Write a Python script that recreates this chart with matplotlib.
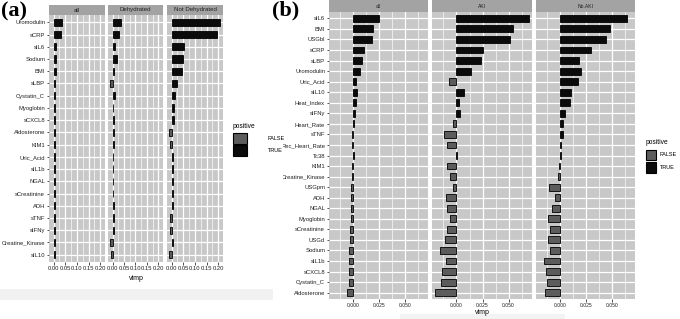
import matplotlib
matplotlib.use('Agg')
import matplotlib.pyplot as plt
from matplotlib.patches import Rectangle
from matplotlib.transforms import Bbox, TransformedBbox
import numpy as np

plt.rcParams['font.family'] = ['Liberation Sans', 'DejaVu Sans']

W, H = 680, 319

# ---------------- data : panel (a) ----------------
cats_a = ['Uromodulin', 'sCRP', 'sIL6', 'Sodium', 'BMI', 'sLBP', 'Cystatin_C',
          'Myoglobin', 'sCXCL8', 'Aldosterone', 'KIM1', 'Uric_Acid', 'sIL1b',
          'NGAL', 'sCreatinine', 'ADH', 'sTNF', 'sIFNy', 'Creatine_Kinase', 'sIL10']
facets_a = ['all', 'Dehydrated', 'Not Dehydrated']
a_all = [0.037, 0.032, 0.011, 0.012, 0.008, 0.004, 0.007, 0.005, 0.005, 0.004,
         0.004, 0.004, 0.004, 0.004, 0.004, 0.004, 0.005, 0.004, 0.005, 0.005]
a_dehyd = [0.037, 0.027, 0.010, 0.021, 0.005, -0.010, 0.009, 0.004, 0.006, 0.005,
           0.005, 0.004, 0.004, 0.004, 0.004, 0.006, 0.006, 0.006, -0.010, -0.009]
a_notdehyd = [0.207, 0.194, 0.053, 0.050, 0.043, 0.021, 0.014, 0.011, 0.011, -0.010,
              -0.005, 0.005, 0.005, 0.005, 0.005, 0.004, -0.008, -0.009, 0.004, -0.010]
ticks_a = [0.00, 0.05, 0.10, 0.15, 0.20]
ticklabels_a = ['0.00', '0.05', '0.10', '0.15', '0.20']

# ---------------- data : panel (b) ----------------
cats_b = ['sIL6', 'BMI', 'USGbl', 'sCRP', 'sLBP', 'Uromodulin', 'Uric_Acid', 'sIL10',
          'Heat_Index', 'sIFNy', 'Heart_Rate', 'sTNF', 'Rec_Heart_Rate', 'Tc38', 'KIM1',
          'Creatine_Kinase', 'USGpm', 'ADH', 'NGAL', 'Myoglobin', 'sCreatinine', 'USGd',
          'Sodium', 'sIL1b', 'sCXCL8', 'Cystatin_C', 'Aldosterone']
facets_b = ['all', 'AKI', 'No.AKI']
b_all = [0.0252, 0.0194, 0.0181, 0.0103, 0.0084, 0.0068, 0.0026, 0.0032, 0.0026, 0.0016,
         0.0008, -0.0015, -0.0015, 0.0004, -0.0015, -0.0012, -0.0025, -0.0025, -0.0025,
         -0.0025, -0.0030, -0.0032, -0.0040, -0.0045, -0.0045, -0.0042, -0.0057]
b_aki = [0.0700, 0.0547, 0.0515, 0.0250, 0.0236, 0.0143, -0.0068, 0.0068, 0.0026, 0.0032,
         -0.0036, -0.0117, -0.0094, 0.0008, -0.0091, -0.0062, -0.0036, -0.0100, -0.0094,
         -0.0062, -0.0091, -0.0107, -0.0155, -0.0100, -0.0139, -0.0146, -0.0204]
b_noaki = [0.0647, 0.0480, 0.0447, 0.0295, 0.0178, 0.0204, 0.0170, 0.0105, 0.0095, 0.0050,
           0.0024, 0.0024, 0.0010, 0.0010, -0.0012, -0.0025, -0.0110, -0.0050, -0.0084,
           -0.0120, -0.0104, -0.0120, -0.0097, -0.0160, -0.0136, -0.0130, -0.0146]
ticks_b = [0.0, 0.025, 0.05]
ticklabels_b = ['0.000', '0.025', '0.050']

legend_title = 'positive'
legend_labels = ['FALSE', 'TRUE']

PANEL_BG = '#c8c8c8'
STRIP_BG = '#a3a3a3'
TRUE_C = '#0b0b0b'
FALSE_C = '#5c5c5c'
TXT = '#222222'

fig = plt.figure(figsize=(W / 100, H / 100), dpi=100)
fig.patch.set_facecolor('white')


def ax_px(x0, y0, x1, y1):
    return fig.add_axes([x0 / W, 1 - y1 / H, (x1 - x0) / W, (y1 - y0) / H])


def draw_panel(x0, x1, ytop, ybot, strip_top, cats, vals, xlim, major, minor,
               ticklabels, show_y, name, barh, yfs, xfs, sfs):
    ax = ax_px(x0, ytop, x1, ybot)
    ax.set_facecolor(PANEL_BG)
    n = len(cats)
    pos = np.arange(1, n + 1)
    vals = np.asarray(vals)
    colors = [TRUE_C if v > 0 else FALSE_C for v in vals]
    ax.barh(pos, vals, height=barh, color=colors, edgecolor='black',
            linewidth=0.6, zorder=3)
    ax.set_xlim(*xlim)
    ax.set_ylim(n + 0.6, 0.4)
    ax.set_xticks(major)
    ax.set_xticks(minor, minor=True)
    ax.set_xticklabels(ticklabels, fontsize=xfs, color=TXT)
    ax.set_yticks(pos)
    if show_y:
        ax.set_yticklabels(cats, fontsize=yfs, color=TXT)
    else:
        ax.set_yticklabels([])
    ax.grid(which='major', color='white', linewidth=0.9, zorder=1)
    ax.grid(which='minor', axis='x', color='white', linewidth=0.45, zorder=1)
    ax.set_axisbelow(True)
    for s in ax.spines.values():
        s.set_visible(False)
    ax.tick_params(which='major', length=1.8, width=0.6, color='#333333', pad=1)
    ax.tick_params(which='minor', length=0)
    if not show_y:
        ax.tick_params(axis='y', length=0)
    sax = ax_px(x0, strip_top, x1, ytop)
    sax.set_facecolor(STRIP_BG)
    sax.set_xticks([])
    sax.set_yticks([])
    for s in sax.spines.values():
        s.set_visible(False)
    sax.text(0.5, 0.5, name, ha='center', va='center', fontsize=sfs, color=TXT,
             transform=sax.transAxes)
    return ax


# ---------------- panel (a) ----------------
xa = [(49, 105), (108, 163), (167, 223)]
vals_a = [a_all, a_dehyd, a_notdehyd]
minor_a = [0.025, 0.075, 0.125, 0.175]
for i, ((x0, x1), v, nm) in enumerate(zip(xa, vals_a, facets_a)):
    draw_panel(x0, x1, 15, 262, 5, cats_a, v, (-0.020, 0.221), ticks_a, minor_a,
               ticklabels_a, i == 0, nm, 0.6, 4.2, 4.2, 4.4)

# ---------------- panel (b) ----------------
xb = [(329, 428), (432, 532), (536, 635)]
vals_b = [b_all, b_aki, b_noaki]
minor_b = [-0.0125, 0.0125, 0.0375, 0.0625]
axes_b = []
for i, ((x0, x1), v, nm) in enumerate(zip(xb, vals_b, facets_b)):
    axes_b.append(draw_panel(x0, x1, 12, 299, 0, cats_b, v, (-0.0235, 0.0725), ticks_b,
                             minor_b, ticklabels_b, i == 0, nm, 0.65, 4.2, 3.6, 3.6))

# clip the left side of the (b) category labels as in the reference
clip = TransformedBbox(Bbox.from_extents(283 / W, 0, 340 / W, 1), fig.transFigure)
for lab in axes_b[0].get_yticklabels():
    lab.set_clip_on(True)
    lab.set_clip_box(clip)

# ---------------- overlay: labels, legends ----------------
ov = fig.add_axes([0, 0, 1, 1])
ov.set_xlim(0, W)
ov.set_ylim(H, 0)
ov.axis('off')
ov.patch.set_alpha(0)

ov.add_patch(Rectangle((0, 289), 273, 11, facecolor='#f1f1f1', edgecolor='none', zorder=0))
ov.add_patch(Rectangle((400, 314), 165, 5, facecolor='#f3f3f3', edgecolor='none', zorder=0))

ov.text(1, 1, '(a)', fontsize=16, fontweight='bold', family='Liberation Serif',
        ha='left', va='top', color='black')
ov.text(272, 0, '(b)', fontsize=16, fontweight='bold', family='Liberation Serif',
        ha='left', va='top', color='black')

ov.text(136, 278, 'vimp', fontsize=5, ha='center', va='center', color='black')
ov.text(482, 313, 'vimp', fontsize=5, ha='center', va='center', color='black')

# legend (a)
ov.text(233, 127, legend_title, fontsize=4.8, ha='left', va='center', color='black')
ov.add_patch(Rectangle((233, 133), 14, 11, facecolor=FALSE_C, edgecolor='black', linewidth=0.8))
ov.add_patch(Rectangle((233, 145), 14, 11, facecolor=TRUE_C, edgecolor='black', linewidth=0.8))
ov.text(268, 138.5, legend_labels[0], fontsize=4, ha='left', va='center', color='black')
ov.text(268, 150.5, legend_labels[1], fontsize=4, ha='left', va='center', color='black')

# legend (b)
ov.text(646, 143, legend_title, fontsize=4.8, ha='left', va='center', color='black')
ov.add_patch(Rectangle((646, 150), 10, 10, facecolor=FALSE_C, edgecolor='black', linewidth=0.8))
ov.add_patch(Rectangle((646, 162), 10, 11, facecolor=TRUE_C, edgecolor='black', linewidth=0.8))
ov.text(660, 155, legend_labels[0], fontsize=4, ha='left', va='center', color='black')
ov.text(660, 167.5, legend_labels[1], fontsize=4, ha='left', va='center', color='black')

fig.savefig('out.png', dpi=100, facecolor='white')
